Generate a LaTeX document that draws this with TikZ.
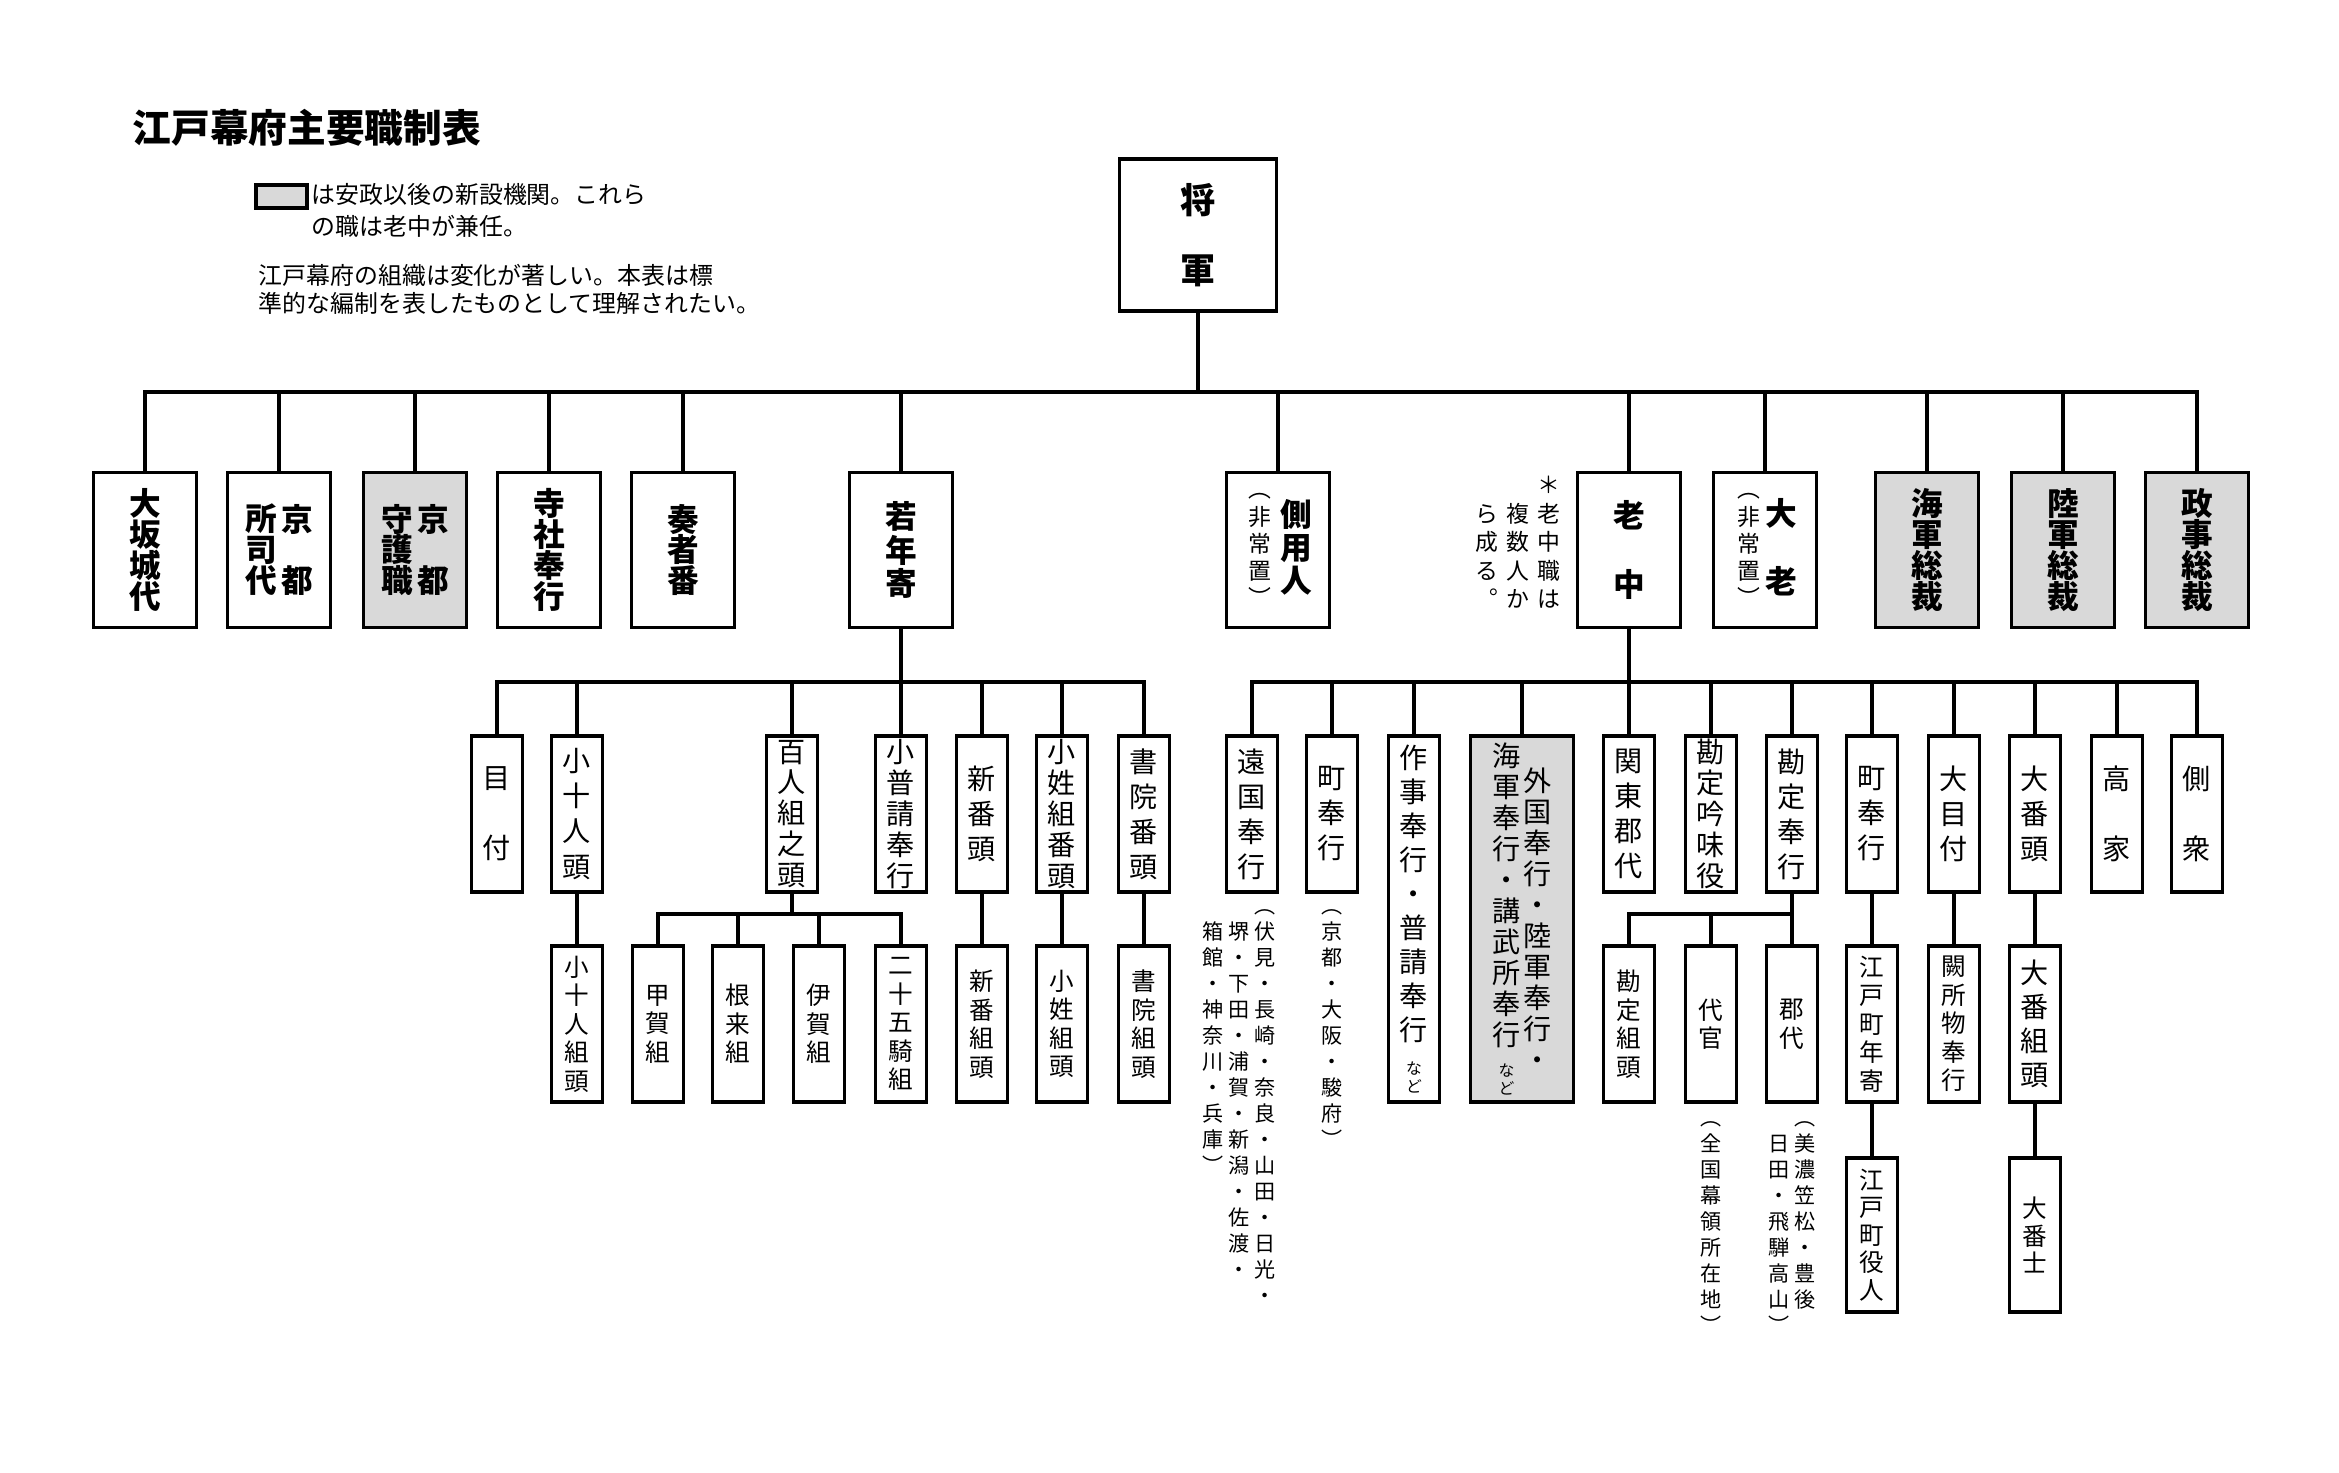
\documentclass[tikz,border=0pt]{standalone}
\usepackage{fontspec}
\setmainfont{Noto Sans CJK JP}
\usepackage{xcolor}
\usepackage{tikz}
\usetikzlibrary{positioning,calc}

\definecolor{newgray}{RGB}{217,217,217}

% vertical text: one character per line
\def\vtend{vtend}
\newcommand\vt[1]{\vtfirst#1\vtend}
\def\vtfirst#1{#1\vtrest}
\def\vtrest#1{\ifx#1\vtend\else\\#1\expandafter\vtrest\fi}
\newcommand\vcol[3][c]{\parbox[#1]{#2}{\centering\vt{#3}}}
\newcommand\pitch[1]{\baselineskip=#1\relax\normalbaselineskip=#1\relax}
\newcommand\nado{{\fontsize{4.5}{5}\selectfont\parbox[t]{1em}{\centering な\\ど}}}

\newcommand\titlefont{\bfseries\fontsize{11}{13}\selectfont}
\newcommand\keyfont{\fontsize{6.8}{8}\selectfont}
\newcommand\bigfont{\bfseries\fontsize{10}{9.96}\selectfont\lineskiplimit=-20pt}
\newcommand\topfont{\bfseries\fontsize{9}{8.8}\selectfont\lineskiplimit=-20pt}
\newcommand\kfont{\mdseries\fontsize{6.5}{7.7}\selectfont}
\newcommand\subfont{\fontsize{8}{9.96}\selectfont\lineskiplimit=-20pt}
\newcommand\lowfont{\fontsize{7}{8.1}\selectfont\lineskiplimit=-20pt}
\newcommand\annfont{\fontsize{6}{7.4}\selectfont\lineskiplimit=-20pt}

\begin{document}
\begin{tikzpicture}[x=0.01cm, y=-0.01cm,
    every node/.style={inner sep=0pt},
    topbox/.style={draw, line width=1.1pt, minimum width=1.03cm, minimum height=1.55cm, font=\topfont},
    subbox/.style={draw, line width=1.1pt, minimum width=0.51cm, minimum height=1.56cm, font=\subfont},
    longbox/.style={subbox, minimum height=3.66cm},
    lowbox/.style={subbox, font=\lowfont},
    newbox/.style={fill=newgray},
    ann/.style={anchor=base, font=\annfont},
    link/.style={line width=1.1pt},
]
\useasboundingbox (0,0) rectangle (2339,1473);

% title and key
\node[anchor=west, font=\titlefont] (title) at (132,128) {江戸幕府主要職制表};
\node[draw, line width=1.1pt, fill=newgray, minimum width=0.51cm, minimum height=0.23cm] (key) at (281.5,196.5) {};
\node[anchor=base west, font=\keyfont] (keytext1) at (311,204) {は安政以後の新設機関。これら};
\node[anchor=base west, font=\keyfont] (keytext2) at (311,236) {の職は老中が兼任。};
\node[anchor=base west, font=\keyfont] (remark1) at (258,285) {江戸幕府の組織は変化が著しい。本表は標};
\node[anchor=base west, font=\keyfont] (remark2) at (258,313) {準的な編制を表したものとして理解されたい。};

\node[draw, line width=1.1pt, minimum width=1.57cm, minimum height=1.52cm, font=\bigfont] (shogun) at (1198,235) {\vcol{1.2em}{将~軍}};

% first row
\node[topbox] (osaka) at (145,550) {\vcol{1.2em}{大坂城代}};
\node[topbox] (shoshidai) at (279,550) {\vcol{0.36cm}{所司代}\vcol{0.36cm}{京~都}};
\node[topbox, newbox] (shugoshoku) at (415,550) {\vcol{0.36cm}{守護職}\vcol{0.36cm}{京~都}};
\node[topbox] (jisha) at (549,550) {\vcol{1.2em}{寺社奉行}};
\node[topbox] (sosha) at (683,550) {\vcol{1.2em}{奏者番}};
\node[topbox] (waka) at (901,550) {\pitch{9.4pt}\vcol{1.2em}{若年寄}};
\node[topbox] (sobayonin) at (1278,550) {{\kfont\vcol{0.37cm}{︵非常置︶}}\pitch{9.4pt}\vcol{0.37cm}{側用人}};
\node[topbox] (roju) at (1629,550) {\pitch{9.8pt}\vcol{1.2em}{老~中}};
\node[topbox] (tairo) at (1765,550) {{\kfont\vcol{0.32cm}{︵非常置︶}}\pitch{9.7pt}\vcol{0.32cm}{大~老}};
\node[topbox, newbox] (kaigun) at (1927,550) {\vcol{1.2em}{海軍総裁}};
\node[topbox, newbox] (rikugun) at (2063,550) {\vcol{1.2em}{陸軍総裁}};
\node[topbox, newbox] (seiji) at (2197,550) {\vcol{1.2em}{政事総裁}};

\node[anchor=base, font={\kfont\pitch{8.1pt}}] (rojunote) at (1518,494)
  {\vcol[t]{0.31cm}{~ら成る︒}\vcol[t]{0.31cm}{~複数人か}\vcol[t]{0.31cm}{＊老中職は}};

% second row
\node[subbox] (metsuke) at (497,814) {\vcol{1.2em}{目~付}};
\node[subbox] (kojunin) at (577,814) {\vcol{1.2em}{小十人頭}};
\node[subbox] (hyakunin) at (792,814) {\pitch{8.8pt}\vcol{1.2em}{百人組之頭}};
\node[subbox] (kobushin) at (901,814) {\pitch{8.8pt}\vcol{1.2em}{小普請奉行}};
\node[subbox] (shinban) at (982,814) {\vcol{1.2em}{新番頭}};
\node[subbox] (kosho) at (1062,814) {\pitch{8.8pt}\vcol{1.2em}{小姓組番頭}};
\node[subbox] (shoin) at (1144,814) {\vcol{1.2em}{書院番頭}};

\node[subbox] (ongoku) at (1252,814) {\vcol{1.2em}{遠国奉行}};
\node[subbox] (machi) at (1332,814) {\vcol{1.2em}{町奉行}};
\node[longbox] (sakuji) at (1414,919) {\pitch{9.67pt}\vcol{1.2em}{作事奉行・普請奉行\nado}};
\node[longbox, newbox, minimum width=1.03cm] (gaikoku) at (1522,919)
  {\pitch{8.8pt}\vcol{0.31cm}{海軍奉行・講武所奉行\nado}\vcol{0.31cm}{外国奉行・陸軍奉行・}};
\node[subbox] (kanto) at (1629,814) {\vcol{1.2em}{関東郡代}};
\node[subbox] (ginmi) at (1711,814) {\pitch{8.8pt}\vcol{1.2em}{勘定吟味役}};
\node[subbox] (kanjo) at (1792,814) {\vcol{1.2em}{勘定奉行}};
\node[subbox] (edomachi) at (1872,814) {\vcol{1.2em}{町奉行}};
\node[subbox] (ometsuke) at (1954,814) {\vcol{1.2em}{大目付}};
\node[subbox] (oban) at (2035,814) {\vcol{1.2em}{大番頭}};
\node[subbox] (koke) at (2117,814) {\vcol{1.2em}{高~家}};
\node[subbox] (sobashu) at (2197,814) {\vcol{1.2em}{側~衆}};

% third row
\node[lowbox] (kojuningumi) at (577,1024) {\vcol{1.2em}{小十人組頭}};
\node[lowbox] (koga) at (658,1024) {\vcol{1.2em}{甲賀組}};
\node[lowbox] (negoro) at (738,1024) {\vcol{1.2em}{根来組}};
\node[lowbox] (iga) at (819,1024) {\vcol{1.2em}{伊賀組}};
\node[lowbox] (nijugoki) at (901,1024) {\vcol{1.2em}{二十五騎組}};
\node[lowbox] (shinbangumi) at (982,1024) {\vcol{1.2em}{新番組頭}};
\node[lowbox] (koshogumi) at (1062,1024) {\vcol{1.2em}{小姓組頭}};
\node[lowbox] (shoingumi) at (1144,1024) {\vcol{1.2em}{書院組頭}};
\node[lowbox] (kanjogumi) at (1629,1024) {\vcol{1.2em}{勘定組頭}};
\node[lowbox] (daikan) at (1711,1024) {\vcol{1.2em}{代官}};
\node[lowbox] (gundai) at (1792,1024) {\vcol{1.2em}{郡代}};
\node[lowbox] (toshiyori) at (1872,1024) {\vcol{1.2em}{江戸町年寄}};
\node[lowbox] (kessho) at (1954,1024) {\vcol{1.2em}{闕所物奉行}};
\node[subbox] (obangumi) at (2035,1024) {\pitch{9.7pt}\vcol{1.2em}{大番組頭}};

% fourth row
\node[lowbox, minimum height=1.54cm] (yakunin) at (1872,1235) {\pitch{7.8pt}\vcol{1.2em}{江戸町役人}};
\node[lowbox, minimum height=1.54cm] (obanshi) at (2035,1235) {\pitch{7.8pt}\vcol{1.2em}{大番士}};

% place names
\node[ann] (ongokunote) at (1239,913) {\vcol[t]{0.26cm}{~箱館・神奈川・兵庫︶}\vcol[t]{0.26cm}{~堺・下田・浦賀・新潟・佐渡・}\vcol[t]{0.26cm}{︵伏見・長崎・奈良・山田・日光・}};
\node[ann] (machinote) at (1332,913) {\vcol[t]{0.26cm}{︵京都・大阪・駿府︶}};
\node[ann] (daikannote) at (1711,1125) {\vcol[t]{0.26cm}{︵全国幕領所在地︶}};
\node[ann] (gundainote) at (1792,1125) {\vcol[t]{0.26cm}{~日田・飛騨高山︶}\vcol[t]{0.26cm}{︵美濃笠松・豊後}};

% connectors
\coordinate (topbus) at (1198,392);
\coordinate (wakabus) at (901,682);
\coordinate (rojubus) at (1629,682);
\coordinate (hyakubus) at (792,914);
\coordinate (kanjobus) at (1792,914);

\draw[link] (shogun) -- (topbus);
\foreach \n in {osaka,shoshidai,shugoshoku,jisha,sosha,waka,sobayonin,roju,tairo,kaigun,rikugun,seiji}
  \draw[link] (topbus) -| (\n.north);
\draw[link] (waka) -- (wakabus);
\foreach \n in {metsuke,kojunin,hyakunin,kobushin,shinban,kosho,shoin}
  \draw[link] (wakabus) -| (\n.north);
\draw[link] (roju) -- (rojubus);
\foreach \n in {ongoku,machi,sakuji,gaikoku,kanto,ginmi,kanjo,edomachi,ometsuke,oban,koke,sobashu}
  \draw[link] (rojubus) -| (\n.north);
\draw[link] (hyakunin) -- (hyakubus);
\foreach \n in {koga,negoro,iga,nijugoki}
  \draw[link] (hyakubus) -| (\n.north);
\draw[link] (kanjo) -- (kanjobus);
\foreach \n in {kanjogumi,daikan,gundai}
  \draw[link] (kanjobus) -| (\n.north);

\draw[link] (kojunin) -- (kojuningumi);
\draw[link] (shinban) -- (shinbangumi);
\draw[link] (kosho) -- (koshogumi);
\draw[link] (shoin) -- (shoingumi);
\draw[link] (edomachi) -- (toshiyori);
\draw[link] (toshiyori) -- (yakunin);
\draw[link] (ometsuke) -- (kessho);
\draw[link] (oban) -- (obangumi);
\draw[link] (obangumi) -- (obanshi);

\end{tikzpicture}
\end{document}
